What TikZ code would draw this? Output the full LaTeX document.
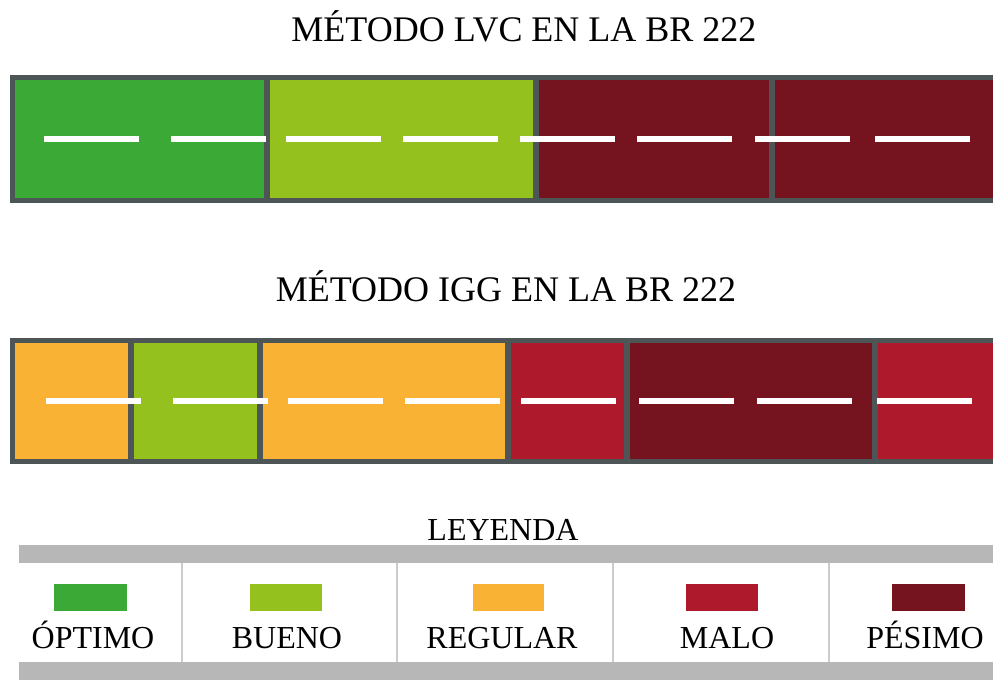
\documentclass[tikz,border=0pt]{standalone}
\usepackage{fontspec}
\setmainfont{Liberation Serif}
\definecolor{optimo}{HTML}{3AA935}
\definecolor{bueno}{HTML}{95C11F}
\definecolor{regular}{HTML}{F9B233}
\definecolor{malo}{HTML}{AE1A2C}
\definecolor{pesimo}{HTML}{75141F}
\definecolor{borde}{HTML}{4D5556}
\definecolor{banda}{HTML}{B7B7B7}
\definecolor{linea}{HTML}{CCCCCC}
\tikzset{
  tramo/.style={draw=borde,line width=3.8pt},
  raya/.style={white,line width=4.5pt},
  titulo/.style={anchor=base,inner sep=0pt,font=\fontsize{27}{30}\selectfont},
  etiqueta/.style={anchor=base,inner sep=0pt,font=\fontsize{24}{28}\selectfont},
}
\begin{document}
\begin{tikzpicture}[x=0.75pt,y=-0.75pt]
\useasboundingbox (0,0) rectangle (993,680);
\clip (0,0) rectangle (993,680);
% LVC
\node[titulo] (tituloLVC) at (524,42) {MÉTODO LVC EN LA BR 222};
\draw [tramo,fill=optimo] (12.5,77.5) rectangle (267,200.5);
\draw [tramo,fill=bueno] (267,77.5) rectangle (536,200.5);
\draw [tramo,fill=pesimo] (536,77.5) rectangle (772,200.5);
\draw [tramo,fill=pesimo] (772,77.5) rectangle (1010,200.5);
\foreach \x in {44,171,286,403,520,637,755,875}
  \draw [raya] (\x,139) -- ++(95,0);
% IGG
\node[titulo] (tituloIGG) at (506,302) {MÉTODO IGG EN LA BR 222};
\draw [tramo,fill=regular] (12.5,340.5) rectangle (131,461.5);
\draw [tramo,fill=bueno] (131,340.5) rectangle (260,461.5);
\draw [tramo,fill=regular] (260,340.5) rectangle (508,461.5);
\draw [tramo,fill=malo] (508,340.5) rectangle (627,461.5);
\draw [tramo,fill=pesimo] (627,340.5) rectangle (875,461.5);
\draw [tramo,fill=malo] (875,340.5) rectangle (1010,461.5);
\foreach \x in {46,173,288,405,521,639,757,877}
  \draw [raya] (\x,401) -- ++(95,0);
% leyenda
\node[etiqueta] (leyenda) at (503,541) {LEYENDA};
\fill [banda] (19,545) rectangle (1000,563);
\fill [banda] (19,662) rectangle (1000,690);
\foreach \x in {182,397,613,829}
  \draw [linea,line width=1.5pt] (\x,563) -- (\x,662);
\fill [optimo] (54,584) rectangle (127,611);
\fill [bueno] (250,584) rectangle (322,611);
\fill [regular] (473,584) rectangle (544,611);
\fill [malo] (686,584) rectangle (758,611);
\fill [pesimo] (892,584) rectangle (965,611);
\node[etiqueta] (optimo) at (93,648) {ÓPTIMO};
\node[etiqueta] (bueno) at (287,648) {BUENO};
\node[etiqueta] (regular) at (502,648) {REGULAR};
\node[etiqueta] (malo) at (727,648) {MALO};
\node[etiqueta] (pesimo) at (925,648) {PÉSIMO};
\end{tikzpicture}
\end{document}
